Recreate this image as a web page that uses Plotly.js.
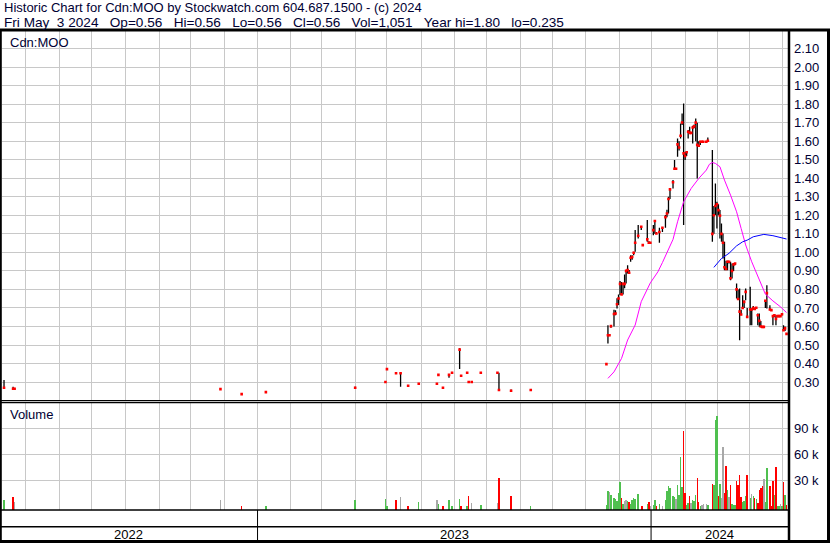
<!DOCTYPE html>
<html><head><meta charset="utf-8">
<script src="https://cdn.plot.ly/plotly-3.0.1.min.js"></script>
<style>html,body{margin:0;padding:0;background:#fff;}#chart{width:830px;height:543px;}</style>
</head><body><div id="chart"></div>
<script>
// ---------- DATA ----------
const dates = [
 '2022-05-11','2022-05-19','2022-05-20','2022-11-28','2022-12-16','2023-01-09','2023-03-31','2023-04-28','2023-05-01','2023-05-09',
 '2023-05-12','2023-05-19','2023-05-30','2023-06-15','2023-06-16','2023-06-21','2023-06-27','2023-06-29','2023-07-06','2023-07-07',
 '2023-07-13','2023-07-14','2023-07-18','2023-07-26','2023-08-10','2023-08-11','2023-08-23','2023-09-11',
 '2023-11-20','2023-11-21','2023-11-22','2023-11-23','2023-11-27','2023-11-28','2023-11-29','2023-11-30','2023-12-01','2023-12-04',
 '2023-12-05','2023-12-06','2023-12-07','2023-12-08','2023-12-11','2023-12-12','2023-12-13','2023-12-14','2023-12-15','2023-12-19',
 '2023-12-21','2023-12-22','2023-12-27','2023-12-28','2023-12-29','2024-01-02','2024-01-03','2024-01-04','2024-01-08','2024-01-10',
 '2024-01-12','2024-01-15','2024-01-16','2024-01-17','2024-01-19','2024-01-22','2024-01-23','2024-01-24','2024-01-25','2024-01-26',
 '2024-01-29','2024-01-30','2024-01-31','2024-02-01','2024-02-02','2024-02-05','2024-02-06','2024-02-07','2024-02-08','2024-02-09',
 '2024-02-12','2024-02-13','2024-02-14','2024-02-15','2024-02-16','2024-02-20','2024-02-21','2024-02-26','2024-02-27','2024-02-28',
 '2024-02-29','2024-03-01','2024-03-04','2024-03-05','2024-03-06','2024-03-07','2024-03-08','2024-03-11','2024-03-12','2024-03-13',
 '2024-03-14','2024-03-15','2024-03-18','2024-03-19','2024-03-20','2024-03-21','2024-03-22','2024-03-25','2024-03-26','2024-03-27',
 '2024-03-28','2024-04-01','2024-04-02','2024-04-03','2024-04-04','2024-04-05','2024-04-08','2024-04-09','2024-04-10','2024-04-11',
 '2024-04-12','2024-04-15','2024-04-16','2024-04-18','2024-04-19','2024-04-22','2024-04-23','2024-04-24','2024-04-25','2024-04-26',
 '2024-04-29','2024-04-30','2024-05-01','2024-05-02','2024-05-03'
];
const highs = [
 0.311,0.275,0.264,0.262,0.235,0.246,0.275,0.300,0.370,0.348,
 0.350,0.280,0.291,0.291,0.339,0.269,0.343,0.350,0.482,0.334,
 0.350,0.300,0.300,0.350,0.350,0.350,0.260,0.257,
 0.397,0.607,0.560,0.607,0.690,0.688,0.752,0.773,0.845,0.840,
 0.832,0.880,0.905,0.931,0.905,0.985,0.985,1.003,1.120,1.147,
 1.140,1.045,1.174,1.060,1.055,1.147,1.174,1.110,1.133,1.133,
 1.201,1.230,1.300,1.340,1.390,1.498,1.455,1.615,1.600,1.696,
 1.750,1.804,1.543,1.545,1.660,1.678,1.650,1.683,1.690,1.723,
 1.700,1.600,1.600,1.600,1.600,1.600,1.620,1.552,1.250,1.372,
 1.273,1.260,1.228,1.156,1.102,1.057,0.955,0.955,0.950,0.949,
 0.940,0.935,0.940,0.832,0.800,0.805,0.690,0.769,0.740,0.805,
 0.700,0.814,0.697,0.710,0.700,0.705,0.670,0.670,0.630,0.600,
 0.600,0.740,0.823,0.715,0.692,0.661,0.665,0.661,0.656,0.660,
 0.661,0.666,0.607,0.600,0.560
];
const lows = [
 0.266,0.262,0.264,0.262,0.235,0.246,0.266,0.300,0.370,0.348,
 0.275,0.280,0.291,0.291,0.339,0.269,0.323,0.350,0.370,0.334,
 0.350,0.300,0.300,0.350,0.350,0.257,0.253,0.257,
 0.397,0.508,0.550,0.593,0.600,0.660,0.697,0.716,0.770,0.770,
 0.773,0.806,0.832,0.886,0.886,0.949,0.960,0.985,1.003,1.075,
 1.120,1.039,1.057,1.052,1.052,1.093,1.100,1.102,1.052,1.110,
 1.133,1.190,1.210,1.288,1.345,1.444,1.445,1.516,1.550,1.615,
 1.687,1.147,1.498,1.520,1.615,1.640,1.640,1.588,1.670,1.600,
 1.399,1.570,1.580,1.597,1.597,1.597,1.600,1.057,1.100,1.201,
 1.129,1.200,1.075,1.057,0.967,0.904,0.904,0.904,0.940,0.850,
 0.859,0.900,0.930,0.751,0.748,0.526,0.660,0.697,0.700,0.742,
 0.650,0.607,0.607,0.690,0.690,0.695,0.607,0.598,0.598,0.598,
 0.598,0.700,0.697,0.688,0.685,0.607,0.650,0.607,0.650,0.656,
 0.656,0.660,0.580,0.575,0.560
];
const closes = [
 0.269,0.264,0.264,0.262,0.235,0.246,0.269,0.300,0.370,0.348,
 0.348,0.280,0.291,0.291,0.339,0.269,0.339,0.350,0.475,0.334,
 0.350,0.300,0.300,0.350,0.350,0.257,0.253,0.257,
 0.397,0.553,0.553,0.602,0.667,0.670,0.720,0.751,0.830,0.773,
 0.830,0.830,0.900,0.905,0.890,0.971,0.975,0.998,1.052,1.090,
 1.138,1.039,1.070,1.052,1.052,1.120,1.169,1.102,1.110,1.133,
 1.190,1.210,1.288,1.340,1.378,1.451,1.451,1.583,1.566,1.629,
 1.701,1.534,1.520,1.540,1.651,1.645,1.645,1.674,1.680,1.700,
 1.580,1.575,1.597,1.597,1.597,1.597,1.602,1.100,1.200,1.250,
 1.260,1.228,1.198,1.100,1.052,0.920,0.910,0.949,0.949,0.860,
 0.900,0.935,0.940,0.800,0.748,0.680,0.665,0.700,0.733,0.787,
 0.652,0.692,0.692,0.700,0.695,0.701,0.661,0.630,0.600,0.598,
 0.598,0.739,0.780,0.692,0.688,0.656,0.660,0.640,0.656,0.656,
 0.656,0.666,0.580,0.590,0.560
];
const volumes = [
 6800,10300,4500,6800,300,300,6800,7900,200,6800,
 10300,300,4500,6800,2100,300,6800,100,7900,200,
 300,11400,3300,1000,3300,32300,11400,100,
 1000,17200,15700,12600,9500,7600,6100,14500,27600,9100,
 2200,5700,6800,5700,4200,2600,6800,8800,7600,13800,
 300,200,1800,4200,300,700,6800,100,2200,100,
 6800,17600,23000,20700,11400,10700,8400,24900,12600,57000,
 21500,86800,14500,1000,3800,11400,3000,6800,6100,12600,
 32700,5000,300,1500,2500,1800,500,25300,24100,100700,
 105400,11400,25300,8800,68700,15300,46300,18400,10700,24100,
 2200,500,500,29000,24100,35600,10700,5000,6100,11400,
 35600,8800,13800,11400,9100,7600,3800,18400,21100,23000,
 31200,5000,44000,23000,100,29000,12600,45000,100,100,
 2200,100,27600,12600,1051
];
// volume bar colour: u = up (green), d = down (red), f = unchanged (grey)
const volDir = [
 'u','d','f','f','d','u','u','u','u','d',
 'f','d','u','f','u','d','u','u','u','d',
 'u','d','f','u','f','d','d','u',
 'u','u','f','u','u','u','u','u','u','d',
 'u','f','f','u','d','u','u','u','u','u',
 'd','d','u','d','f','u','u','d','u','f',
 'u','u','u','u','u','u','f','u','u','u',
 'u','d','d','u','u','d','f','u','u','u',
 'd','d','u','f','f','f','u','d','u','u',
 'u','d','u','f','f','d','d','u','f','d',
 'u','u','u','d','d','d','d','u','u','u',
 'd','u','f','u','d','u','d','d','d','d',
 'f','u','u','d','d','d','u','d','u','u',
 'f','u','d','u','d'
];
// moving averages, sampled along the drawn lines
const maShortDates = ['2023-11-21','2023-11-27','2023-12-04','2023-12-08','2023-12-15','2023-12-21','2023-12-29','2024-01-05','2024-01-10','2024-01-16',
 '2024-01-19','2024-01-24','2024-01-30','2024-02-06','2024-02-13','2024-02-20','2024-02-22','2024-02-26','2024-02-28','2024-03-04',
 '2024-03-07','2024-03-13','2024-03-19','2024-03-22','2024-03-27','2024-04-02','2024-04-08','2024-04-11','2024-04-15','2024-04-22',
 '2024-04-29','2024-05-03'];
const maShortValues = [0.320,0.355,0.428,0.527,0.608,0.734,0.835,0.895,0.945,1.020,
 1.070,1.165,1.273,1.345,1.399,1.444,1.475,1.485,1.480,1.462,
 1.390,1.309,1.219,1.129,1.040,0.949,0.875,0.814,0.775,0.738,
 0.706,0.675];
const maLongDates = ['2024-02-27','2024-03-05','2024-03-12','2024-03-19','2024-03-25','2024-03-28','2024-04-03','2024-04-12','2024-04-22','2024-05-03'];
const maLongValues = [0.919,0.967,0.995,1.035,1.057,1.066,1.084,1.097,1.090,1.072];

const priceTicks = [0.3,0.4,0.5,0.6,0.7,0.8,0.9,1.0,1.1,1.2,1.3,1.4,1.5,1.6,1.7,1.8,1.9,2.0,2.1];
const priceTickText = ['0.30','0.40','0.50','0.60','0.70','0.80','0.90','1.00','1.10','1.20','1.30','1.40','1.50','1.60','1.70','1.80','1.90','2.00','2.10'];
const volTicks = [30000,60000,90000];
const volTickText = ['30 k','60 k','90 k'];
const gridDates = ['2022-06-01','2022-07-01','2022-08-01','2022-09-01','2022-10-03','2022-11-01','2022-12-01','2023-01-02',
 '2023-02-01','2023-03-01','2023-04-03','2023-05-01','2023-06-01','2023-07-03','2023-08-01','2023-09-01','2023-10-02','2023-11-01',
 '2023-12-01','2024-01-01','2024-02-01','2024-03-01','2024-04-01','2024-05-01'];
const yearBounds = ['2023-01-02','2024-01-01'];
const yearLabels = ['2022','2023','2024'];
const X_START = '2022-05-10 04:00', X_END = '2024-05-07 03:00';
const PRICE_RANGE = [0.2, 2.2];
const VOL_RANGE = [-4820, 120500];
const header1 = 'Historic Chart for Cdn:MOO by Stockwatch.com 604.687.1500 - (c) 2024';
const header2 = 'Fri May  3 2024   Op=0.56   Hi=0.56   Lo=0.56   Cl=0.56   Vol=1,051   Year hi=1.80   lo=0.235';
const symbolLabel = 'Cdn:MOO';
const volumeLabel = 'Volume';

// ---------- GEOMETRY ----------
const W = 830, H = 543, M = {l: 2, r: 41, t: 30, b: 33};
const PW = W - M.l - M.r, PH = H - M.t - M.b;
const px = x => (x - M.l) / PW;
const py = y => (H - M.b - y) / PH;
const FONT = 'Liberation Sans, Arial, Helvetica, sans-serif';
const TXT = '#000033';
const GRID = '#c8c8c8';
const keep = s => s.replace(/ /g, '\u00a0');
const DAY = 86400000;

const dirColor = {u: '#4fc04f', d: '#ff0000', f: '#a8a8a8'};

const traces = [
  { // volume
    type: 'bar', x: dates, y: volumes.map(v => v - VOL_RANGE[0]), base: VOL_RANGE[0],
    xaxis: 'x', yaxis: 'y2', width: DAY * 0.95,
    xperiod: DAY, xperiodalignment: 'middle',
    marker: {color: volDir.map(d => dirColor[d]), line: {width: 0}},
    hoverinfo: 'skip'
  },
  { // high-low lines with red close marks
    type: 'scatter', mode: 'markers', x: dates, y: closes, xaxis: 'x', yaxis: 'y',
    xperiod: DAY, xperiodalignment: 'middle',
    marker: {symbol: 'square', size: 2.6, color: '#ff0000', line: {width: 0}},
    error_y: {type: 'data', symmetric: false,
      array: highs.map((h, i) => h - closes[i]),
      arrayminus: lows.map((l, i) => closes[i] - l),
      color: '#000000', thickness: 1.3, width: 0},
    cliponaxis: true, hoverinfo: 'skip'
  },
  {
    type: 'scatter', mode: 'lines', x: maShortDates, y: maShortValues, xaxis: 'x', yaxis: 'y',
    xperiod: DAY, xperiodalignment: 'middle',
    line: {color: '#ff00ff', width: 1}, hoverinfo: 'skip'
  },
  {
    type: 'scatter', mode: 'lines', x: maLongDates, y: maLongValues, xaxis: 'x', yaxis: 'y',
    xperiod: DAY, xperiodalignment: 'middle',
    line: {color: '#0000ff', width: 1}, hoverinfo: 'skip'
  }
];

const line = (x0, y0, x1, y1, w, xref) => ({type: 'line', xref: xref || 'paper', yref: 'paper',
  x0: x0, y0: y0, x1: x1, y1: y1, line: {color: '#000', width: w}, layer: 'above'});

const shapes = [
  line(px(0), py(30), px(830), py(30), 3),          // top rule
  line(px(0.8), py(30), px(0.8), py(543), 2),       // left frame
  line(px(828.5), py(30), px(828.5), py(543), 3),   // right frame
  line(px(0), py(541.5), px(830), py(541.5), 3),    // bottom frame
  line(px(789), py(30), px(789), py(541), 2.5),     // axis separator
  line(px(0), py(400.6), px(789), py(400.6), 1.3),  // price panel bottom
  line(px(0), py(402.6), px(789), py(402.6), 1.3),  // volume panel top
  line(px(0), py(510), px(789), py(510), 1.5),      // volume panel bottom
  line(px(0), py(526.7), px(789), py(526.7), 1.5)   // year band divider
];
yearBounds.forEach(d => shapes.push(line(d, py(510), d, py(541), 1, 'x')));

const mid = (a, b) => new Date((new Date(a.replace(' ', 'T') + 'Z').getTime() + new Date(b.replace(' ', 'T') + 'Z').getTime()) / 2).toISOString().slice(0, 10);
const yearEdges = [X_START, ...yearBounds, X_END];

const annotations = [
  {text: keep(header1), xref: 'paper', yref: 'paper', x: px(2), y: py(8), xanchor: 'left', yanchor: 'middle', showarrow: false,
   font: {family: FONT, size: 13, color: TXT}},
  {text: keep(header2), xref: 'paper', yref: 'paper', x: px(2), y: py(22), xanchor: 'left', yanchor: 'middle', showarrow: false,
   font: {family: FONT, size: 13.6, color: TXT}},
  {text: symbolLabel, xref: 'paper', yref: 'paper', x: px(8), y: py(42), xanchor: 'left', yanchor: 'middle', showarrow: false,
   font: {family: FONT, size: 13, color: TXT}},
  {text: volumeLabel, xref: 'paper', yref: 'paper', x: px(8), y: py(414), xanchor: 'left', yanchor: 'middle', showarrow: false,
   font: {family: FONT, size: 13, color: TXT}}
];
yearLabels.forEach((t, i) => annotations.push({
  text: t, xref: 'x', yref: 'paper', x: mid(yearEdges[i], yearEdges[i + 1]), y: py(534), xanchor: 'center', yanchor: 'middle',
  showarrow: false, font: {family: FONT, size: 13, color: '#000'}
}));

const layout = {
  width: W, height: H, margin: M, showlegend: false,
  paper_bgcolor: '#fff', plot_bgcolor: '#fff',
  font: {family: FONT, size: 13, color: TXT},
  bargap: 0,
  xaxis: {type: 'date', range: [X_START, X_END], rangebreaks: [{bounds: ['sat', 'mon']}],
    tickmode: 'array', tickvals: gridDates, showticklabels: false, ticks: '',
    showgrid: true, gridcolor: GRID, gridwidth: 1, zeroline: false, showline: false, anchor: 'y2', fixedrange: true},
  yaxis: {domain: [py(400.6), 1], range: PRICE_RANGE, side: 'right', anchor: 'x',
    tickmode: 'array', tickvals: priceTicks, ticktext: priceTickText, ticks: '', ticklabelstandoff: 4,
    tickfont: {family: FONT, size: 13, color: TXT},
    showgrid: true, gridcolor: GRID, gridwidth: 1, zeroline: false, showline: false, fixedrange: true},
  yaxis2: {domain: [0, py(402.6)], range: VOL_RANGE, side: 'right', anchor: 'x',
    tickmode: 'array', tickvals: volTicks, ticktext: volTickText, ticks: '', ticklabelstandoff: 4,
    tickfont: {family: FONT, size: 13, color: TXT},
    showgrid: true, gridcolor: GRID, gridwidth: 1, zeroline: false, showline: false, fixedrange: true},
  shapes: shapes,
  annotations: annotations
};

Plotly.newPlot('chart', traces, layout, {staticPlot: true, displayModeBar: false});
</script>
</body></html>
